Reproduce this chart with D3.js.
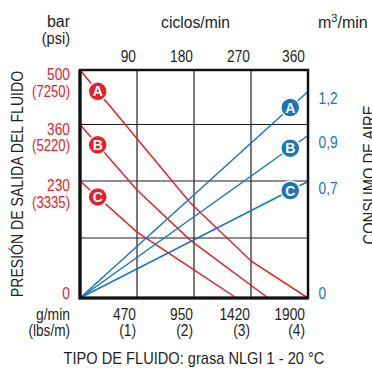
<!DOCTYPE html>
<html>
<head>
<meta charset="utf-8">
<script src="https://cdn.jsdelivr.net/npm/d3@7"></script>
<style>
body { margin: 0; background: #fff; }
svg text { font-family: "Liberation Sans", Arial, sans-serif; font-size: 16px; fill: #231f20; }
</style>
</head>
<body>
<div id="chart"></div>
<script>
// tick labels
var cycleTicks = [90, 180, 270, 360];
var flowTicks = ["470", "950", "1420", "1900"];
var flowLbsTicks = ["(1)", "(2)", "(3)", "(4)"];
var pressureTicks = [500, 360, 230];
var pressurePsi = ["(7250)", "(5220)", "(3335)"];
var pressureGrid = [115, 230, 360];
var airTicks = [0.7, 0.9, 1.2];

// curves: [cycles/min, bar]
var curveNames = ["A", "B", "C"];
var pressureA = [[0, 500], [174, 186], [271, 70], [360, 0]];
var pressureB = [[0, 360], [90, 212], [174, 111], [297, 0]];
var pressureC = [[0, 230], [90, 127], [180, 54], [247, 0]];
var airAt360 = [1.2, 0.9, 0.7];   // m3/min at 360 cycles/min

var red = "#e5222b", blue = "#1a76bc";

var width = 372, height = 368;

var x = d3.scaleLinear().domain([0, 360]).range([80, 308]);
var yP = d3.scaleLinear().domain([0, 115, 230, 360, 500]).range([298, 238, 181, 124.5, 70]);
var yA = d3.scaleLinear().domain([0, 0.7, 0.9, 1.2]).range([298, 181.5, 135.5, 91.5]);

var svg = d3.select("#chart").append("svg")
    .attr("width", width)
    .attr("height", height)

// condensed look: squeeze text horizontally
function tr(px, py, sx, rot) {
    return "translate(" + px + "," + py + ")" + (rot ? " rotate(" + rot + ")" : "") + " scale(" + sx + ",1)";
}
function label(px, py, txt, sx, anchor, col) {
    return svg.append("text")
        .attr("transform", tr(px, py, sx))
        .attr("text-anchor", anchor || "start")
        .style("fill", col || "#231f20")
        .text(txt);
}

// grid
svg.selectAll(".vgrid")
    .data(cycleTicks.slice(0, 3)).enter().append("line")
    .attr("x1", d => x(d)).attr("x2", d => x(d))
    .attr("y1", yP(500)).attr("y2", yP(0))
    .attr("stroke", "#231f20").attr("stroke-width", 1.2)

svg.selectAll(".hgrid")
    .data(pressureGrid).enter().append("line")
    .attr("x1", x(0)).attr("x2", x(360))
    .attr("y1", d => yP(d)).attr("y2", d => yP(d))
    .attr("stroke", "#231f20").attr("stroke-width", 1.2)

// pixel-space interpolation along a polyline
function yOn(pts, c) {
    for (var i = 1; i < pts.length; i++) {
        if (c <= pts[i][0]) {
            var t = (c - pts[i-1][0]) / (pts[i][0] - pts[i-1][0]);
            return yP(pts[i-1][1]) + t * (yP(pts[i][1]) - yP(pts[i-1][1]));
        }
    }
    return yP(pts[pts.length-1][1]);
}

var line = d3.line().x(d => x(d[0])).y(d => yP(d[1]));
var curves = [pressureA, pressureB, pressureC];

svg.selectAll(".red")
    .data(curves).enter().append("path")
    .attr("d", line)
    .attr("fill", "none").attr("stroke", red).attr("stroke-width", 1.5)

svg.selectAll(".blue")
    .data(airAt360).enter().append("line")
    .attr("x1", x(0)).attr("y1", yA(0))
    .attr("x2", x(360)).attr("y2", d => yA(d))
    .attr("stroke", blue).attr("stroke-width", 1.5)

// frame
svg.append("rect")
    .attr("x", x(0)).attr("y", yP(500))
    .attr("width", x(360) - x(0)).attr("height", yP(0) - yP(500))
    .attr("fill", "none").attr("stroke", "#111").attr("stroke-width", 2.5)
svg.append("path")
    .attr("d", "M" + x(0) + "," + yP(500) + "V" + yP(0) + "H" + x(360))
    .attr("fill", "none").attr("stroke", "#111").attr("stroke-width", 3.2)

// badges
function badge(cx, cy, col, name) {
    var g = svg.append("g").attr("transform", "translate(" + cx + "," + cy + ")");
    g.append("circle").attr("r", 9.5).attr("fill", col).attr("stroke", "#fff").attr("stroke-width", 1.5);
    g.append("text").text(name)
        .attr("text-anchor", "middle").attr("dy", "0.36em")
        .style("font-weight", "bold").style("font-size", "14px").style("fill", "#fff");
}
curves.forEach(function (c, i) { badge(x(28), yOn(c, 28), red, curveNames[i]); });
airAt360.forEach(function (v, i) {
    var cy = yA(0) + (332 / 360) * (yA(v) - yA(0));
    badge(x(332), cy, blue, curveNames[i]);
});

var numSx = 0.86;

// top axis: cycles/min
svg.selectAll(".ctick")
    .data(cycleTicks).enter().append("text")
    .attr("transform", d => tr(x(d) - (d == 360 ? 3 : 1), 61.5, numSx))
    .attr("text-anchor", "end")
    .text(d => d)

// bottom axis: g/min, (lbs/m)
svg.selectAll(".ftick")
    .data(flowTicks).enter().append("text")
    .attr("transform", (d, i) => tr(x(cycleTicks[i]) - (i == 3 ? 3 : 1), 320, numSx))
    .attr("text-anchor", "end")
    .text(d => d)
svg.selectAll(".ltick")
    .data(flowLbsTicks).enter().append("text")
    .attr("transform", (d, i) => tr(x(cycleTicks[i]) - (i == 3 ? 3 : 1), 336, numSx))
    .attr("text-anchor", "end")
    .text(d => d)

// left axis: bar (psi)
svg.selectAll(".ptick")
    .data(pressureTicks).enter().append("text")
    .attr("transform", d => tr(70, yP(d) + 10, numSx))
    .attr("text-anchor", "end").style("fill", red)
    .text(d => d)
svg.selectAll(".psitick")
    .data(pressurePsi).enter().append("text")
    .attr("transform", (d, i) => tr(70, yP(pressureTicks[i]) + 26.5, 0.82))
    .attr("text-anchor", "end").style("fill", red)
    .text(d => d)
label(70, yP(0) + 1, "0", numSx, "end", red)

// right axis: m3/min
svg.selectAll(".atick")
    .data(airTicks).enter().append("text")
    .attr("transform", d => tr(318.5, yA(d) + 12, numSx))
    .style("fill", blue)
    .text(d => String(d).replace(".", ","))
label(318.5, yA(0) + 1, "0", numSx, "start", blue)

// unit labels
label(70, 26.5, "bar", 1, "end")
label(70, 44, "(psi)", 0.91, "end")
label(195.5, 28, "ciclos/min", 0.98, "middle")
var m3 = label(318, 28, "", 1, "start")
m3.append("tspan").text("m")
m3.append("tspan").attr("dy", -6).style("font-size", "11px").text("3")
m3.append("tspan").attr("dy", 6).text("/min")
label(70, 320, "g/min", 0.87, "end")
label(70, 336, "(lbs/m)", 0.85, "end")

// titles
label(194, 363.5, "TIPO DE FLUIDO: grasa NLGI 1 - 20 °C", 0.914, "middle")
svg.append("text").attr("transform", tr(23, 184, 0.88, -90)).attr("text-anchor", "middle")
    .text("PRESIÓN DE SALIDA DEL FLUIDO")
svg.append("text").attr("transform", tr(375, 175, 0.92, -90)).attr("text-anchor", "middle")
    .text("CONSUMO DE AIRE")
</script>
</body>
</html>
